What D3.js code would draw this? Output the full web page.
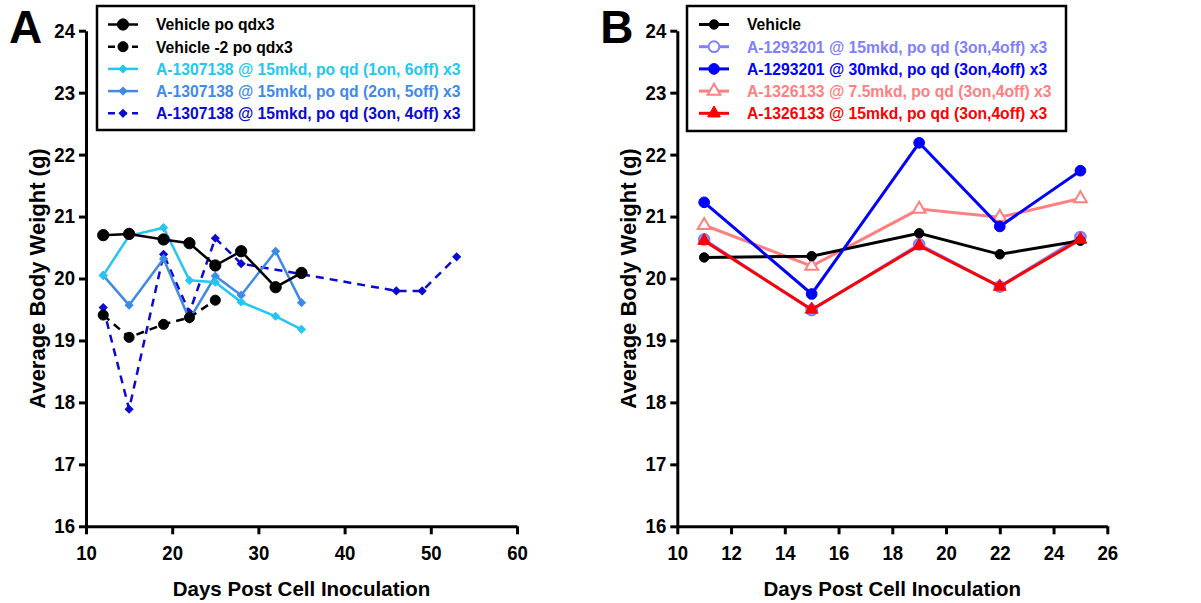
<!DOCTYPE html>
<html>
<head>
<meta charset="utf-8">
<script src="https://cdn.jsdelivr.net/npm/d3@7"></script>
<style>
body { margin: 0; background: #fff; }
svg text { font-family: "Liberation Sans", Arial, sans-serif; font-weight: bold; }
</style>
</head>
<body>
<svg id="chart" width="1201" height="603"></svg>
<script>
// Data
// ============================================================================
const yTicks = [16, 17, 18, 19, 20, 21, 22, 23, 24];
const xTicksA = [10, 20, 30, 40, 50, 60];
const xTicksB = [10, 12, 14, 16, 18, 20, 22, 24, 26];

// Panel A
const daysA = [12, 15, 19, 22, 25, 28, 32, 35];
const vehicleA = [20.70, 20.72, 20.63, 20.57, 20.21, 20.44, 19.86, 20.09];
const daysVehicle2 = [12, 15, 19, 22, 25];
const vehicle2A = [19.41, 19.05, 19.26, 19.37, 19.65];
const a1on6off = [20.05, 20.69, 20.82, 19.97, 19.94, 19.62, 19.39, 19.18];
const a2on5off = [20.05, 19.57, 20.32, 19.34, 20.04, 19.73, 20.44, 19.61];
const days3on4off = [12, 15, 19, 22, 25, 28, 35, 46, 49, 53];
const a3on4off = [19.53, 17.89, 20.39, 19.45, 20.65, 20.24, 20.07, 19.80, 19.80, 20.35];

// Panel B
const daysB = [11, 15, 19, 22, 25];
const vehicleB = [20.34, 20.36, 20.73, 20.39, 20.61];
const b1293201lo = [20.63, 19.49, 20.55, 19.87, 20.67];
const b1293201hi = [21.23, 19.75, 22.19, 20.84, 21.74];
const b1326133lo = [20.86, 20.20, 21.12, 20.99, 21.29];
const b1326133hi = [20.61, 19.50, 20.53, 19.87, 20.63];

const zip = (xs, ys) => xs.map((x, i) => ({x: x, y: ys[i]}));

const panelA = {
    letter: "A",
    xTicks: xTicksA,
    xRange: [86, 517],
    legendBox: [97, 6, 377, 124],
    legendX: 108,
    series: [
        {name: "Vehicle po qdx3", color: "#000", data: zip(daysA, vehicleA),
         shape: d3.symbolCircle, size: 100, dash: null, width: 2.5},
        {name: "Vehicle -2 po qdx3", color: "#000", data: zip(daysVehicle2, vehicle2A),
         shape: d3.symbolCircle, size: 80, dash: "8,6", width: 2.5},
        {name: "A-1307138 @ 15mkd, po qd (1on, 6off) x3", color: "#22c7f2", data: zip(daysA, a1on6off),
         shape: "diamond", size: 30, dash: null, width: 2.5},
        {name: "A-1307138 @ 15mkd, po qd (2on, 5off) x3", color: "#3f8ae8", data: zip(daysA, a2on5off),
         shape: "diamond", size: 30, dash: null, width: 2.5},
        {name: "A-1307138 @ 15mkd, po qd (3on, 4off) x3", color: "#0a0ad2", data: zip(days3on4off, a3on4off),
         shape: "diamond", size: 30, dash: "8,6", width: 2.5},
    ],
    order: [4, 3, 2, 1, 0]
};

const panelB = {
    letter: "B",
    xTicks: xTicksB,
    xRange: [677.3, 1107.3],
    legendBox: [687, 6, 379, 125],
    legendX: 699,
    series: [
        {name: "Vehicle", color: "#000", data: zip(daysB, vehicleB),
         shape: d3.symbolCircle, size: 70, dash: null, width: 3},
        {name: "A-1293201 @ 15mkd, po qd (3on,4off) x3", color: "#8080ff", data: zip(daysB, b1293201lo),
         shape: d3.symbolCircle, size: 90, dash: null, width: 3, fill: "#9c9cff", legendFill: "#fff"},
        {name: "A-1293201 @ 30mkd, po qd (3on,4off) x3", color: "#0000ff", data: zip(daysB, b1293201hi),
         shape: d3.symbolCircle, size: 90, dash: null, width: 3},
        {name: "A-1326133 @ 7.5mkd, po qd (3on,4off) x3", color: "#ff8080", data: zip(daysB, b1326133lo),
         shape: d3.symbolTriangle, size: 70, dash: null, width: 3, fill: "#fff", legendFill: "#fff"},
        {name: "A-1326133 @ 15mkd, po qd (3on,4off) x3", color: "#ff0000", data: zip(daysB, b1326133hi),
         shape: d3.symbolTriangle, size: 70, dash: null, width: 3},
    ],
    order: [1, 3, 0, 2, 4]
};

// Plot
// ============================================================================
const svg = d3.select("#chart");
const yScale = d3.scaleLinear().domain([16, 24]).range([526.3, 30.7]);

function symbolPath(s) {
    if (s.shape === "diamond") return d3.symbol(d3.symbolSquare, s.size)();
    return d3.symbol(s.shape, s.size)();
}

// squeeze text a little, the original font runs narrower
function squeeze(sel, k) {
    sel.each(function() {
        const w = this.getComputedTextLength();
        d3.select(this)
            .attr("textLength", w * k)
            .attr("lengthAdjust", "spacingAndGlyphs");
    });
}

function drawPanel(p) {
    const xScale = d3.scaleLinear().domain([p.xTicks[0], p.xTicks[p.xTicks.length - 1]]).range(p.xRange);
    const x0 = p.xRange[0];
    const g = svg.append("g");

    // Axes
    const xAxis = g.append("g")
        .attr("transform", "translate(0," + yScale(16) + ")")
        .call(d3.axisBottom(xScale).tickValues(p.xTicks).tickSize(8).tickSizeOuter(0).tickPadding(12));
    const yAxis = g.append("g")
        .attr("transform", "translate(" + x0 + ",0)")
        .call(d3.axisLeft(yScale).tickValues(yTicks).tickSize(7).tickSizeOuter(0).tickPadding(4));
    [xAxis, yAxis].forEach(a => {
        a.select(".domain").attr("stroke", "#000").attr("stroke-width", 3);
        a.selectAll(".tick line").attr("stroke", "#000").attr("stroke-width", 3);
        a.selectAll(".tick text")
            .attr("fill", "#000")
            .style("font-size", "20px")
            .call(squeeze, 0.93);
    });

    // Axis titles
    g.append("text")
        .attr("x", (p.xRange[0] + p.xRange[1]) / 2)
        .attr("y", 596)
        .attr("text-anchor", "middle")
        .style("font-size", "20.5px")
        .text("Days Post Cell Inoculation");

    g.append("text")
        .attr("transform", "translate(" + (x0 - 41) + "," + 278.5 + ") rotate(-90)")
        .attr("text-anchor", "middle")
        .style("font-size", "22px")
        .text("Average Body Weight (g)");

    // Panel letter
    g.append("text")
        .attr("x", x0 - 77)
        .attr("y", 43)
        .style("font-size", "46px")
        .text(p.letter);

    // Series
    const line = d3.line().x(d => xScale(d.x)).y(d => yScale(d.y));
    p.order.forEach(i => {
        const s = p.series[i];
        g.append("path")
            .datum(s.data)
            .attr("d", line)
            .attr("fill", "none")
            .attr("stroke", s.color)
            .attr("stroke-width", s.width)
            .attr("stroke-dasharray", s.dash);
        g.selectAll(null)
            .data(s.data)
            .enter()
            .append("path")
                .attr("d", symbolPath(s))
                .attr("transform", d => "translate(" + xScale(d.x) + "," + yScale(d.y) + ")" + (s.shape === "diamond" ? " rotate(45)" : ""))
                .attr("fill", s.fill || s.color)
                .attr("stroke", s.color)
                .attr("stroke-width", s.fill ? 2 : 1);
    });

    // Legend
    const b = p.legendBox;
    g.append("rect")
        .attr("x", b[0])
        .attr("y", b[1])
        .attr("width", b[2])
        .attr("height", b[3])
        .attr("fill", "#fff")
        .attr("stroke", "#000")
        .attr("stroke-width", 2.5);

    p.series.forEach((s, i) => {
        const ly = 24.5 + i * 22.2;
        g.append("line")
            .attr("x1", p.legendX)
            .attr("x2", p.legendX + 30)
            .attr("y1", ly)
            .attr("y2", ly)
            .attr("stroke", s.color)
            .attr("stroke-width", s.width)
            .attr("stroke-dasharray", s.dash ? "7,5" : null);
        g.append("path")
            .attr("d", symbolPath(s))
            .attr("transform", "translate(" + (p.legendX + 15) + "," + ly + ")" + (s.shape === "diamond" ? " rotate(45)" : ""))
            .attr("fill", s.legendFill || s.color)
            .attr("stroke", s.color)
            .attr("stroke-width", s.legendFill ? 2 : 1);
        g.append("text")
            .attr("x", p.legendX + 48)
            .attr("y", ly)
            .attr("dy", "0.36em")
            .attr("fill", s.color)
            .style("font-size", "16.5px")
            .text(s.name)
            .call(squeeze, 0.95);
    });
}

drawPanel(panelA);
drawPanel(panelB);
</script>
</body>
</html>
